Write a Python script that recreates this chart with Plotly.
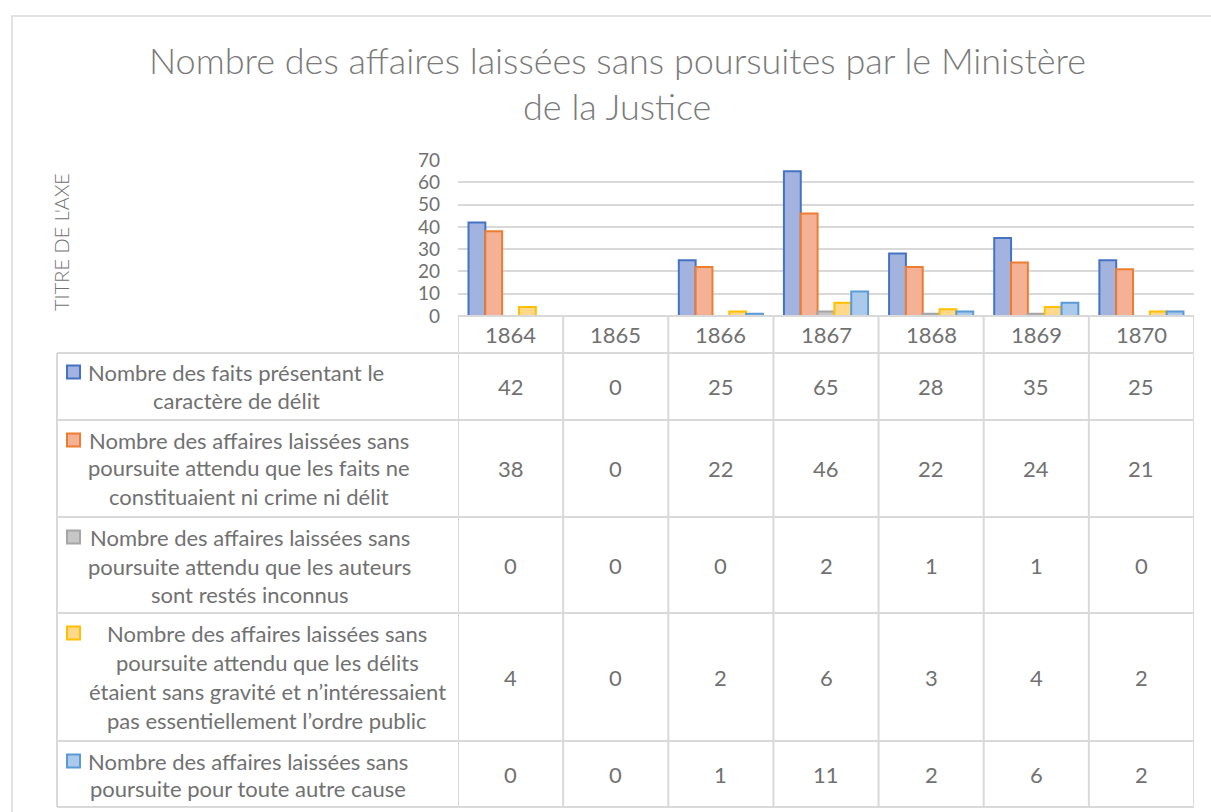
import plotly.graph_objects as go

W, H = 1211, 812

years = ["1864", "1865", "1866", "1867", "1868", "1869", "1870"]
faits_delit = [42, 0, 25, 65, 28, 35, 25]
ni_crime_ni_delit = [38, 0, 22, 46, 22, 24, 21]
auteurs_inconnus = [0, 0, 0, 2, 1, 1, 0]
sans_gravite = [4, 0, 2, 6, 3, 4, 2]
autre_cause = [0, 0, 1, 11, 2, 6, 2]

series_values = [faits_delit, ni_crime_ni_delit, auteurs_inconnus, sans_gravite, autre_cause]
series_labels = [
    ["Nombre des faits présentant le", "caractère de délit"],
    ["Nombre des affaires laissées sans", "poursuite attendu que les faits ne", "constituaient ni crime ni délit"],
    ["Nombre des affaires laissées sans", "poursuite attendu que les auteurs", "sont restés inconnus"],
    ["Nombre des affaires laissées sans", "poursuite attendu que les délits",
     "étaient sans gravité et n’intéressaient", "pas essentiellement l’ordre public"],
    ["Nombre des affaires laissées sans", "poursuite pour toute autre cause"],
]
series_names = [" ".join(l) for l in series_labels]
y_ticks = [0, 10, 20, 30, 40, 50, 60, 70]
title_lines = ["Nombre des affaires laissées sans poursuites par le Ministère", "de la Justice"]
axis_title = "TITRE DE L'AXE"

# styles
fills = ["#a2b3df", "#f5b196", "#c6c6c6", "#ffd88a", "#abc9eb"]
borders = ["#4472c4", "#ed7d31", "#a5a5a5", "#ffc000", "#5b9bd5"]
TXT = "#717171"
GRID = "#d9d9d9"
FONT = "Lato"

def px(x):
    return x / W

def py(y):
    return 1 - y / H

PLOT_L, PLOT_R = 458, 1194
PLOT_T, PLOT_B = 160, 316
TABLE_L = 57
row_bounds = [353, 420, 517, 613, 741, 807]
label_centers = [236, 249, 250, 267, 248]
label_line_y = [[372, 400], [440, 468, 497], [537, 566, 594], [633, 662, 691, 720], [761, 788]]

fig = go.Figure()
for vals, name, fc, bc in zip(series_values, series_names, fills, borders):
    fig.add_trace(go.Bar(
        x=years, y=[v if v else None for v in vals], name=name,
        marker=dict(color=fc, line=dict(color=bc, width=2)),
        showlegend=False,
    ))

shapes = []
annotations = []

# outer chart border
shapes.append(dict(type="path", xref="paper", yref="paper",
                   path=f"M {px(12)} {py(812)} L {px(12)} {py(16)} L {px(1211)} {py(16)}",
                   line=dict(color=GRID, width=1.5)))

# table horizontal lines
shapes.append(dict(type="line", xref="paper", yref="paper", x0=px(PLOT_L), x1=px(PLOT_R),
                   y0=py(PLOT_B), y1=py(PLOT_B), line=dict(color=GRID, width=2)))
for yb in row_bounds:
    shapes.append(dict(type="line", xref="paper", yref="paper", x0=px(TABLE_L), x1=px(PLOT_R),
                       y0=py(yb), y1=py(yb), line=dict(color=GRID, width=2)))
# vertical lines
shapes.append(dict(type="line", xref="paper", yref="paper", x0=px(TABLE_L), x1=px(TABLE_L),
                   y0=py(row_bounds[0]), y1=py(row_bounds[-1]), line=dict(color=GRID, width=2)))
for i in range(len(years) + 1):
    shapes.append(dict(type="line", xref="x", yref="paper", x0=i - 0.5, x1=i - 0.5,
                       y0=py(PLOT_B), y1=py(row_bounds[-1]), line=dict(color=GRID, width=2)))

# header years
for i, yr in enumerate(years):
    annotations.append(dict(xref="x", yref="paper", x=i, y=py((PLOT_B + row_bounds[0]) / 2),
                            text=yr, showarrow=False, xanchor="center", yanchor="middle",
                            font=dict(family=FONT, size=22, color=TXT)))

# rows
for r, (vals, lines, fc, bc) in enumerate(zip(series_values, series_labels, fills, borders)):
    yc = (row_bounds[r] + row_bounds[r + 1]) / 2
    for i, v in enumerate(vals):
        annotations.append(dict(xref="x", yref="paper", x=i, y=py(yc), text=str(v),
                                showarrow=False, xanchor="center", yanchor="middle",
                                font=dict(family=FONT, size=22, color=TXT)))
    for ln, ly in zip(lines, label_line_y[r]):
        annotations.append(dict(xref="paper", yref="paper", x=px(label_centers[r]), y=py(ly),
                                text=ln, showarrow=False, xanchor="center", yanchor="middle",
                                font=dict(family=FONT, size=22, color=TXT)))
    ky = label_line_y[r][0]
    shapes.append(dict(type="rect", xref="paper", yref="paper", x0=px(67), x1=px(80),
                       y0=py(ky - 6.5), y1=py(ky + 6.5), fillcolor=fc,
                       line=dict(color=bc, width=2)))

# title
for txt, ty in zip(title_lines, [60, 106]):
    annotations.append(dict(xref="paper", yref="paper", x=px(617), y=py(ty), text=txt,
                            showarrow=False, xanchor="center", yanchor="middle",
                            font=dict(family=FONT, size=36, color="#7a7a7a", weight=300)))
# axis title
annotations.append(dict(xref="paper", yref="paper", x=px(61), y=py(242), text=axis_title,
                        showarrow=False, textangle=-90, xanchor="center", yanchor="middle",
                        font=dict(family=FONT, size=20, color=TXT, weight=300)))

fig.update_layout(
    width=W, height=H,
    margin=dict(l=0, r=0, t=0, b=0, autoexpand=False),
    paper_bgcolor="white", plot_bgcolor="white",
    barmode="group", bargap=0.2, bargroupgap=0,
    xaxis=dict(domain=[px(PLOT_L), px(PLOT_R)], range=[-0.5, len(years) - 0.5],
               showticklabels=False, showgrid=False, zeroline=False, showline=False,
               type="category"),
    yaxis=dict(domain=[py(PLOT_B), py(PLOT_T)], range=[0, 70], tickvals=y_ticks,
               showgrid=True, gridcolor=GRID, gridwidth=2, zeroline=False, showline=False,
               tickfont=dict(family=FONT, size=19, color=TXT), ticklabelstandoff=17),
    shapes=shapes, annotations=annotations,
    font=dict(family=FONT, color=TXT),
)

fig.write_html("out.html", config={"displayModeBar": False},
               post_script="document.body.style.margin='0';document.body.style.overflow='hidden';")
